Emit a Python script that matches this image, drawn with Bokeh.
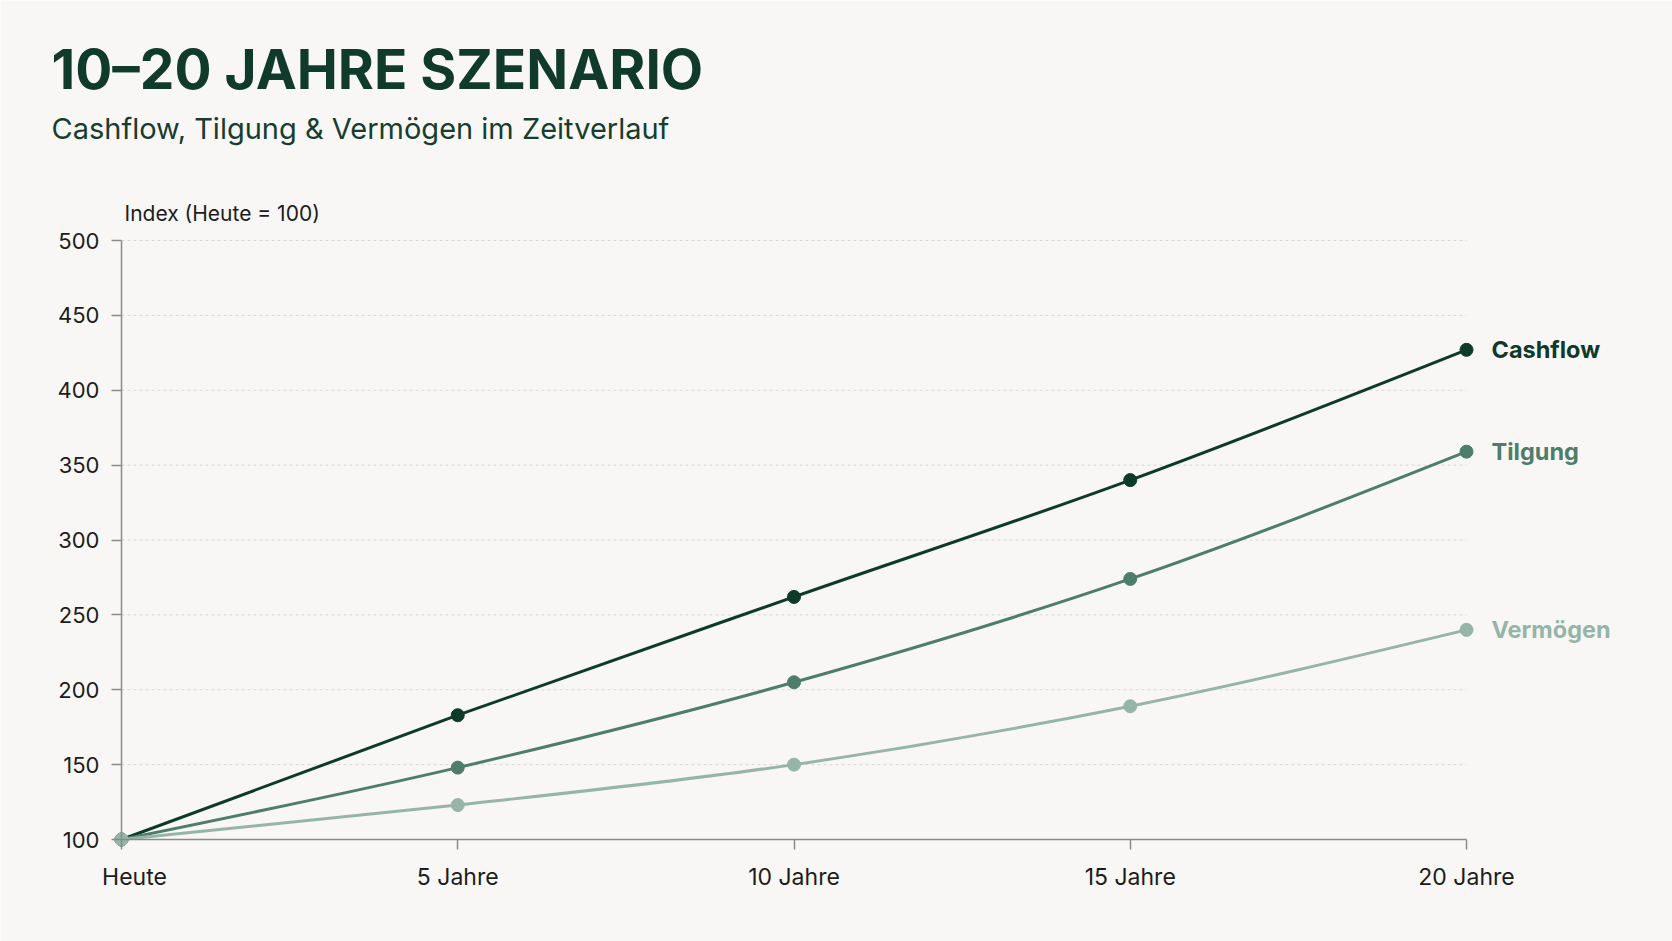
import numpy as np
from bokeh.plotting import figure
from bokeh.models import Range1d, FixedTicker, Label, LabelSet, LinearAxis, ColumnDataSource
from bokeh.core.properties import value
from bokeh.embed import file_html
from bokeh.resources import INLINE

# ---- data ----
years = [0, 5, 10, 15, 20]
x_labels = ["Heute", "5 Jahre", "10 Jahre", "15 Jahre", "20 Jahre"]
y_ticks = [100, 150, 200, 250, 300, 350, 400, 450, 500]
series_names = ["Cashflow", "Tilgung", "Vermögen"]
cashflow = [100, 183, 262, 340, 427]
tilgung = [100, 148, 205, 274, 359]
vermoegen = [100, 123, 150, 189, 240]
series_values = [cashflow, tilgung, vermoegen]
series_colors = ["#0e3a2b", "#4e7d6b", "#95b5a8"]

TITLE = "10–20 JAHRE SZENARIO"
SUBTITLE = "Cashflow, Tilgung & Vermögen im Zeitverlauf"
Y_LABEL = "Index (Heute = 100)"

# ---- style / layout ----
FONT = "Inter"
BG = "#f8f7f5"
INK = "#1c1c1c"
AXIS = "#8a8a8a"
W, H = 1672, 941
PLOT_L, PLOT_R, PLOT_T, PLOT_B = 121, 1466, 240, 839   # pixel box of the data area


def monotone_segments(xs, ys):
    """Cubic bezier control points of a monotone-x curve through the points."""
    n = len(xs)
    h = [xs[i + 1] - xs[i] for i in range(n - 1)]
    s = [(ys[i + 1] - ys[i]) / h[i] for i in range(n - 1)]
    t = [0.0] * n
    for i in range(1, n - 1):
        p_ = (s[i - 1] * h[i] + s[i] * h[i - 1]) / (h[i - 1] + h[i])
        sg = np.sign(s[i - 1]) + np.sign(s[i])
        t[i] = float(sg * min(abs(s[i - 1]), abs(s[i]), 0.5 * abs(p_)))
    t[0] = (3 * s[0] - t[1]) / 2
    t[-1] = (3 * s[-1] - t[-2]) / 2
    seg = dict(x0=[], y0=[], x1=[], y1=[], cx0=[], cy0=[], cx1=[], cy1=[])
    for i in range(n - 1):
        d = h[i] / 3
        seg["x0"].append(xs[i]); seg["y0"].append(ys[i])
        seg["x1"].append(xs[i + 1]); seg["y1"].append(ys[i + 1])
        seg["cx0"].append(xs[i] + d); seg["cy0"].append(ys[i] + d * t[i])
        seg["cx1"].append(xs[i + 1] - d); seg["cy1"].append(ys[i + 1] - d * t[i + 1])
    return seg


# ranges so that the data box lands on the wanted pixels of a full-canvas frame
xs_px = (PLOT_R - PLOT_L) / (years[-1] - years[0])
ys_px = (PLOT_B - PLOT_T) / (y_ticks[-1] - y_ticks[0])
x_range = Range1d(years[0] - PLOT_L / xs_px, years[-1] + (W - PLOT_R) / xs_px)
y_range = Range1d(y_ticks[0] - (H - PLOT_B) / ys_px, y_ticks[-1] + PLOT_T / ys_px)

p = figure(width=W, height=H, output_backend="svg", toolbar_location=None,
           x_range=x_range, y_range=y_range,
           x_axis_location=None, y_axis_location=None,
           min_border_left=0, min_border_right=0, min_border_top=0, min_border_bottom=0)
p.background_fill_color = BG
p.border_fill_color = BG
p.outline_line_color = None
p.grid.visible = False

xaxis = LinearAxis(fixed_location=y_ticks[0], bounds=(years[0], years[-1]),
                   ticker=FixedTicker(ticks=years))
yaxis = LinearAxis(fixed_location=years[0], bounds=(y_ticks[0], y_ticks[-1]),
                   ticker=FixedTicker(ticks=y_ticks))
for ax in (xaxis, yaxis):
    ax.axis_line_color = AXIS
    ax.axis_line_width = 1.5
    ax.major_tick_line_color = AXIS
    ax.major_tick_line_width = 1.5
    ax.major_tick_out = 10
    ax.major_tick_in = 0
    ax.minor_tick_line_color = None
    ax.major_label_text_font = FONT
    ax.major_label_text_font_size = "22px"
    ax.major_label_text_color = INK
xaxis.major_label_text_color = None      # x labels are drawn by the LabelSet below
yaxis.major_label_standoff = 12
p.add_layout(xaxis, "below")
p.add_layout(yaxis, "left")

# dashed gridlines between the axes' extents
grid_y = y_ticks[1:]
p.segment(x0=[years[0]] * len(grid_y), x1=[years[-1]] * len(grid_y), y0=grid_y, y1=grid_y,
          line_color="#d8d8d4", line_width=1, line_dash="3 3")

# series
for name, vals, col in zip(series_names, series_values, series_colors):
    seg = monotone_segments(years, vals)
    p.bezier(source=ColumnDataSource(seg), x0="x0", y0="y0", x1="x1", y1="y1",
             cx0="cx0", cy0="cy0", cx1="cx1", cy1="cy1",
             line_color=col, line_width=3)
    p.scatter(years, vals, size=13, fill_color=col, line_color=col)

# x tick labels ("Heute" sits slightly right of its tick)
x_src = ColumnDataSource(dict(x=years, y=[y_ticks[0]] * len(years), text=x_labels,
                              xo=[13] + [0] * (len(years) - 1)))
p.add_layout(LabelSet(x="x", y="y", text="text", source=x_src, x_offset="xo", y_offset=-37,
                      text_align="center", text_baseline="middle",
                      text_font=value(FONT), text_font_size="23px", text_color=INK))

# end labels
for name, vals, col in zip(series_names, series_values, series_colors):
    p.add_layout(Label(x=years[-1], y=vals[-1], x_offset=25, text=name,
                       text_align="left", text_baseline="middle",
                       text_font=FONT, text_font_size="23.5px", text_font_style="bold",
                       text_color=col))

# titles
p.add_layout(Label(x=years[0], y=y_ticks[-1], x_offset=3, y_offset=27, text=Y_LABEL,
                   text_align="left", text_baseline="middle",
                   text_font=FONT, text_font_size="21px", text_color=INK))
p.add_layout(Label(x=years[0], y=y_ticks[-1], x_offset=-70, y_offset=172, text=TITLE,
                   text_align="left", text_baseline="alphabetic",
                   text_font=FONT, text_font_size="55px", text_font_style="bold",
                   text_color="#0f3a2c"))
p.add_layout(Label(x=years[0], y=y_ticks[-1], x_offset=-70, y_offset=112, text=SUBTITLE,
                   text_align="left", text_baseline="alphabetic",
                   text_font=FONT, text_font_size="29px", text_color="#163d2f"))

open("out.html", "w").write(file_html(p, INLINE))
